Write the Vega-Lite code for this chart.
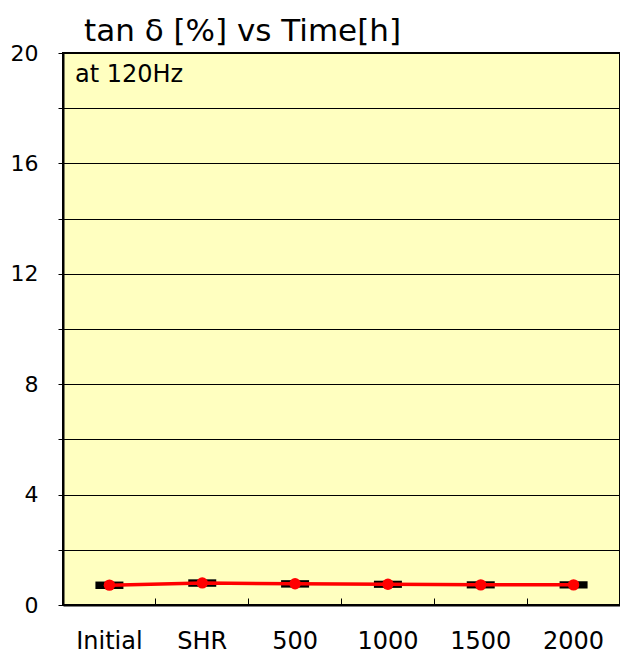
{
  "$schema": "https://vega.github.io/schema/vega-lite/v6.json",
  "autosize": {"type": "none"},
  "width": 557,
  "height": 552,
  "padding": {"left": 63, "top": 53, "right": 0, "bottom": 48},
  "background": "white",
  "config": {
    "font": "DejaVu Sans",
    "view": {"fill": "#FFFFC0", "stroke": "black", "strokeWidth": 2}
  },
  "title": {
    "text": "tan δ [%] vs Time[h]",
    "anchor": "start",
    "frame": "group",
    "dx": 21,
    "dy": 30,
    "offset": 0,
    "baseline": "alphabetic",
    "fontSize": 31,
    "fontWeight": "normal",
    "color": "black",
    "font": "DejaVu Sans"
  },
  "data": {
    "values": [
      {"time": "Initial", "tan": 0.72, "lo": 0.58, "hi": 0.85},
      {"time": "SHR", "tan": 0.80, "lo": 0.66, "hi": 0.93},
      {"time": "500", "tan": 0.77, "lo": 0.63, "hi": 0.90},
      {"time": "1000", "tan": 0.75, "lo": 0.62, "hi": 0.88},
      {"time": "1500", "tan": 0.73, "lo": 0.60, "hi": 0.86},
      {"time": "2000", "tan": 0.73, "lo": 0.60, "hi": 0.86}
    ]
  },
  "encoding": {
    "x": {
      "field": "time",
      "type": "ordinal",
      "sort": null,
      "scale": {"paddingInner": 0, "paddingOuter": 0},
      "axis": {
        "title": null,
        "labelAngle": 0,
        "labelFontSize": 24,
        "labelColor": "black",
        "labelPadding": 31,
        "bandPosition": 0,
        "tickSize": -7,
        "tickColor": "black",
        "tickWidth": 1,
        "domainColor": "black",
        "domainWidth": 2,
        "grid": false
      }
    }
  },
  "layer": [
    {
      "mark": {"type": "bar", "color": "black", "width": 28},
      "encoding": {
        "y": {
          "field": "lo",
          "type": "quantitative",
          "scale": {"domain": [0, 20], "nice": false},
          "axis": {
            "title": null,
            "values": [0, 2, 4, 6, 8, 10, 12, 14, 16, 18, 20],
            "labelExpr": "datum.value % 4 == 0 ? datum.label : ''",
            "labelFontSize": 22,
            "labelColor": "black",
            "labelPadding": 20,
            "tickSize": 5,
            "tickColor": "black",
            "domainColor": "black",
            "domainWidth": 2,
            "grid": true,
            "gridColor": "black",
            "gridWidth": 1,
            "gridOpacity": 1
          }
        },
        "y2": {"field": "hi"}
      }
    },
    {
      "mark": {"type": "line", "color": "#FF0000", "strokeWidth": 3.5},
      "encoding": {"y": {"field": "tan", "type": "quantitative"}}
    },
    {
      "mark": {"type": "point", "shape": "circle", "filled": true, "color": "#FF0000", "opacity": 1, "size": 130},
      "encoding": {"y": {"field": "tan", "type": "quantitative"}}
    },
    {
      "data": {"values": [{"note": "at 120Hz", "time": "Initial", "ypos": 18.95}]},
      "mark": {"type": "text", "align": "left", "baseline": "alphabetic", "fontSize": 24, "fontWeight": "normal", "color": "black", "dx": 12},
      "encoding": {
        "x": {"field": "time", "type": "ordinal", "bandPosition": 0},
        "y": {"field": "ypos", "type": "quantitative"},
        "text": {"field": "note"}
      }
    }
  ]
}
